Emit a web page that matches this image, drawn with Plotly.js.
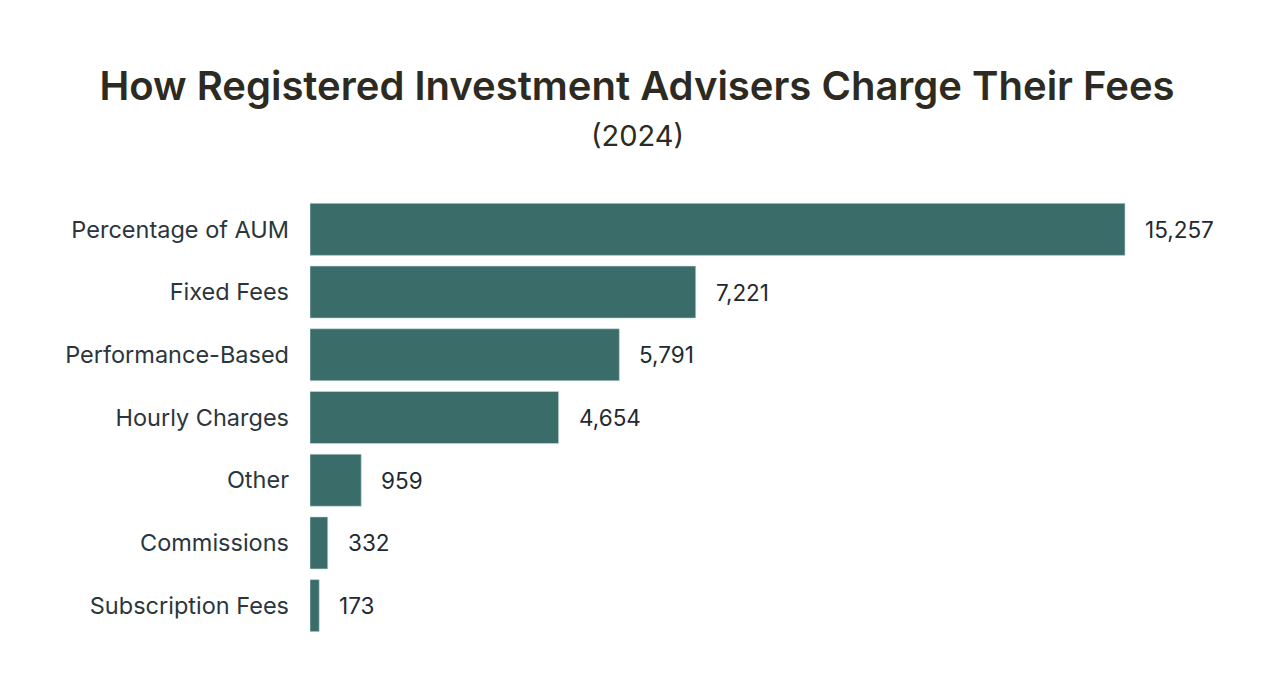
<!DOCTYPE html>
<html>
<head>
<meta charset="utf-8">
<script src="https://cdn.plot.ly/plotly-3.0.1.min.js"></script>
<style>html,body{margin:0;padding:0;background:#fff;}#chart{width:1274px;height:694px;}</style>
</head>
<body>
<div id="chart"></div>
<script>
const categories = ["Percentage of AUM","Fixed Fees","Performance-Based","Hourly Charges","Other","Commissions","Subscription Fees"];
const values = [15257, 7221, 5791, 4654, 959, 332, 173];
const valueLabels = ["15,257","7,221","5,791","4,654","959","332","173"];
const titleText = "How Registered Investment Advisers Charge Their Fees";
const subtitleText = "(2024)";

const trace = {
  type: 'bar',
  orientation: 'h',
  y: categories,
  x: values,
  marker: {color: '#3a6d6a', line: {color: 'rgba(200,220,218,0.6)', width: 1}},
  hoverinfo: 'skip'
};

const annotations = categories.map((c, i) => ({
  x: values[i], y: c, xref: 'x', yref: 'y',
  text: valueLabels[i], showarrow: false,
  xanchor: 'left', xshift: 18,
  font: {family: 'Inter, sans-serif', size: 22.5, color: '#1e2a30'}
}));

annotations.push({
  xref: 'paper', yref: 'paper', x: 0.5 - (310 - 50) / 2 / 914, y: (637 - 135) / 439,
  xanchor: 'center', yanchor: 'middle', showarrow: false,
  text: subtitleText,
  font: {family: 'Inter, sans-serif', size: 29, color: '#2d2a21'}
});

const layout = {
  width: 1274, height: 694,
  paper_bgcolor: '#ffffff', plot_bgcolor: '#ffffff',
  margin: {l: 310, r: 50, t: 198, b: 57},
  title: {
    text: titleText,
    x: 0.5, xanchor: 'center', xref: 'container',
    y: 1 - 86 / 694, yanchor: 'middle', yref: 'container',
    font: {family: 'Inter, sans-serif', size: 40, weight: 600, color: '#2d2a21'}
  },
  bargap: 0.17,
  showlegend: false,
  xaxis: {range: [0, 17110], visible: false, fixedrange: true},
  yaxis: {
    autorange: 'reversed', showgrid: false, zeroline: false, showline: false,
    ticks: '', ticklabelstandoff: 20,
    tickfont: {family: 'Inter, sans-serif', size: 23.5, color: '#2b363c'}
  },
  annotations: annotations
};

Plotly.newPlot('chart', [trace], layout, {displayModeBar: false, staticPlot: true});
</script>
</body>
</html>
